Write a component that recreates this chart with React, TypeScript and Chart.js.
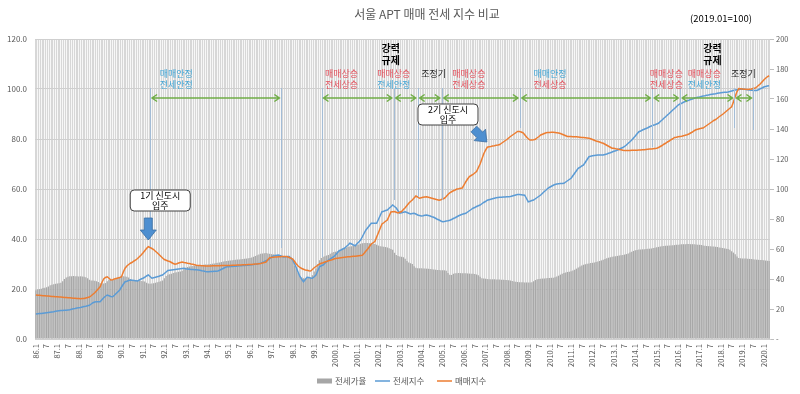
import React, { useEffect, useRef } from 'react';
import { Chart, registerables } from 'chart.js';

Chart.register(...registerables);

// ---------------- data ----------------
const FIRST_YEAR = 1986;
const LAST_YEAR = 2020;
const LAST_MONTH = 4;

const months: string[] = [];
const tickLabels: string[] = [];
for (let yr = FIRST_YEAR; yr <= LAST_YEAR; yr++) {
  for (let m = 1; m <= 12; m++) {
    if (yr === LAST_YEAR && m > LAST_MONTH) break;
    months.push(`${yr}.${String(m).padStart(2, '0')}`);
    tickLabels.push(m === 1 ? (yr < 2000 ? `${String(yr).slice(2)}.1` : `${yr}.1`) : m === 7 ? '7' : '');
  }
}

// 매매지수 (sale price index, 2019.01 = 100), monthly 1986.1 - 2020.4
const saleIndex = [
  17.6, 17.5, 17.5, 17.4, 17.3, 17.3, 17.2, 17.2, 17.1, 17.0, 17.0, 16.9, // 1986
  16.9, 16.8, 16.8, 16.7, 16.6, 16.6, 16.5, 16.5, 16.4, 16.3, 16.3, 16.2, // 1987
  16.2, 16.1, 16.2, 16.2, 16.4, 16.6, 16.8, 17.3, 17.9, 18.5, 19.3, 20.1, // 1988
  20.9, 22.6, 24.0, 24.6, 24.9, 24.3, 23.6, 23.7, 24.0, 24.2, 24.4, 24.6, // 1989
  24.9, 26.8, 28.3, 29.2, 29.8, 30.3, 30.7, 31.2, 31.6, 32.2, 32.9, 33.6, // 1990
  34.4, 35.3, 36.2, 36.9, 36.6, 36.2, 35.8, 35.1, 34.5, 33.8, 33.1, 32.4, // 1991
  31.8, 31.5, 31.2, 31.0, 30.6, 30.2, 29.9, 30.1, 30.4, 30.6, 30.8, 30.6, // 1992
  30.5, 30.3, 30.2, 30.0, 29.9, 29.7, 29.5, 29.4, 29.4, 29.3, 29.3, 29.2, // 1993
  29.2, 29.2, 29.2, 29.3, 29.3, 29.3, 29.3, 29.3, 29.4, 29.4, 29.4, 29.4, // 1994
  29.4, 29.4, 29.5, 29.5, 29.5, 29.6, 29.6, 29.6, 29.7, 29.7, 29.7, 29.8, // 1995
  29.8, 29.8, 29.9, 30.0, 30.0, 30.1, 30.2, 30.4, 30.6, 30.8, 31.7, 32.5, // 1996
  32.6, 32.7, 32.8, 32.8, 32.9, 32.9, 33.0, 33.0, 33.0, 32.9, 32.6, 32.3, // 1997
  32.0, 31.0, 30.0, 29.2, 28.6, 28.2, 27.9, 27.6, 27.5, 27.3, 27.2, 27.8, // 1998
  28.5, 29.0, 29.5, 30.0, 30.3, 30.5, 30.8, 31.0, 31.3, 31.5, 31.7, 32.0, // 1999
  32.2, 32.3, 32.4, 32.5, 32.6, 32.7, 32.8, 32.9, 32.9, 33.0, 33.1, 33.1, // 2000
  33.2, 33.3, 33.4, 33.5, 34.3, 35.2, 36.0, 37.0, 38.0, 38.5, 39.0, 40.8, // 2001
  42.5, 44.3, 46.0, 46.5, 47.1, 47.6, 49.2, 50.8, 50.9, 51.0, 50.7, 50.4, // 2002
  50.7, 51.0, 51.8, 52.5, 53.4, 54.3, 55.0, 55.6, 56.4, 57.2, 56.8, 56.3, // 2003
  56.5, 56.7, 56.8, 56.9, 56.7, 56.5, 56.3, 56.1, 55.9, 55.7, 55.5, 55.7, // 2004
  56.0, 56.3, 57.0, 57.8, 58.5, 58.9, 59.3, 59.6, 60.0, 60.1, 60.3, 60.4, // 2005
  61.6, 62.9, 64.0, 65.0, 65.4, 65.8, 66.4, 67.0, 68.5, 70.0, 72.0, 74.0, // 2006
  75.5, 76.7, 76.9, 77.0, 77.2, 77.3, 77.5, 77.6, 77.8, 78.3, 78.8, 79.3, // 2007
  79.8, 80.4, 81.0, 81.5, 82.0, 82.5, 83.0, 83.0, 82.8, 82.5, 81.7, 80.8, // 2008
  80.1, 79.6, 79.6, 79.7, 79.9, 80.5, 81.0, 81.6, 81.9, 82.2, 82.5, 82.6, // 2009
  82.6, 82.7, 82.7, 82.6, 82.5, 82.4, 82.2, 81.9, 81.6, 81.3, 81.0, 81.0, // 2010
  81.0, 80.9, 80.9, 80.9, 80.8, 80.7, 80.6, 80.6, 80.5, 80.4, 80.3, 80.1, // 2011
  79.8, 79.5, 79.2, 79.0, 78.8, 78.5, 78.3, 77.9, 77.5, 77.1, 76.7, 76.3, // 2012
  76.3, 76.1, 76.0, 75.8, 75.7, 75.5, 75.4, 75.4, 75.4, 75.4, 75.5, 75.5, // 2013
  75.5, 75.5, 75.6, 75.6, 75.7, 75.7, 75.8, 75.9, 76.0, 76.0, 76.1, 76.2, // 2014
  76.3, 76.6, 77.0, 77.4, 77.9, 78.3, 78.8, 79.2, 79.7, 80.1, 80.6, 80.7, // 2015
  80.9, 81.0, 81.1, 81.3, 81.5, 81.7, 82.0, 82.4, 82.8, 83.3, 83.7, 83.9, // 2016
  84.1, 84.3, 84.4, 84.9, 85.4, 85.9, 86.4, 86.9, 87.4, 87.8, 88.3, 88.9, // 2017
  89.4, 89.9, 90.5, 91.1, 91.7, 92.3, 92.9, 94.8, 97.0, 99.0, 100.2, 100.1, // 2018
  100.0, 99.9, 99.9, 99.8, 99.9, 100.0, 100.2, 100.3, 100.8, 101.4, 102.0, 102.8, // 2019
  103.6, 104.3, 104.9, 105.3, // 2020
];

// 전세지수 (jeonse index, 2019.01 = 100)
const jeonseIndex = [
  10.0, 10.1, 10.2, 10.2, 10.3, 10.4, 10.5, 10.6, 10.7, 10.8, 10.9, 11.1, // 1986
  11.2, 11.3, 11.4, 11.4, 11.5, 11.5, 11.6, 11.7, 11.9, 12.1, 12.2, 12.4, // 1987
  12.5, 12.6, 12.8, 13.0, 13.1, 13.3, 13.5, 14.0, 14.5, 14.8, 14.9, 14.9, // 1988
  14.9, 15.7, 16.5, 17.1, 17.6, 17.3, 17.0, 16.9, 17.5, 18.2, 18.9, 19.6, // 1989
  20.8, 21.9, 22.9, 23.1, 23.4, 23.6, 23.5, 23.4, 23.3, 23.2, 23.6, 24.0, // 1990
  24.3, 24.7, 25.2, 25.6, 25.0, 24.3, 24.5, 24.7, 24.9, 25.1, 25.4, 25.6, // 1991
  26.2, 26.8, 27.4, 27.5, 27.6, 27.7, 27.8, 27.9, 28.0, 28.1, 28.2, 28.3, // 1992
  28.1, 28.0, 27.9, 27.8, 27.8, 27.7, 27.7, 27.6, 27.5, 27.3, 27.2, 27.0, // 1993
  26.9, 26.9, 27.0, 27.0, 27.1, 27.1, 27.2, 27.5, 27.9, 28.2, 28.6, 28.9, // 1994
  28.9, 29.0, 29.0, 29.1, 29.1, 29.2, 29.3, 29.3, 29.4, 29.4, 29.5, 29.5, // 1995
  29.6, 29.7, 29.8, 29.9, 30.0, 30.2, 30.3, 30.6, 30.9, 31.3, 31.6, 32.1, // 1996
  32.7, 33.2, 33.3, 33.5, 33.6, 33.3, 33.0, 32.8, 32.9, 33.0, 33.0, 32.3, // 1997
  31.5, 30.0, 28.5, 26.7, 25.0, 23.9, 22.9, 23.8, 24.7, 24.6, 24.4, 24.3, // 1998
  24.9, 25.6, 27.3, 28.9, 29.3, 29.6, 30.3, 30.9, 31.6, 32.0, 32.5, 32.9, // 1999
  33.7, 34.5, 35.3, 35.6, 36.0, 36.3, 37.0, 37.6, 38.3, 38.0, 37.6, 37.3, // 2000
  38.1, 38.8, 39.6, 40.9, 42.3, 43.6, 44.5, 45.4, 46.3, 46.3, 46.3, 46.3, // 2001
  47.8, 49.4, 50.9, 51.1, 51.4, 51.6, 52.3, 52.9, 53.6, 53.0, 52.4, 51.3, // 2002
  50.3, 50.5, 50.7, 50.9, 50.6, 50.3, 50.0, 50.2, 50.3, 50.0, 49.6, 49.4, // 2003
  49.2, 49.3, 49.5, 49.6, 49.4, 49.2, 48.9, 48.7, 48.3, 47.9, 47.6, 47.2, // 2004
  46.9, 47.0, 47.2, 47.3, 47.5, 47.8, 48.2, 48.5, 48.9, 49.3, 49.6, 49.9, // 2005
  50.1, 50.3, 50.8, 51.3, 51.8, 52.3, 52.6, 53.0, 53.3, 53.6, 54.1, 54.6, // 2006
  55.0, 55.5, 55.7, 55.9, 56.1, 56.3, 56.5, 56.6, 56.7, 56.7, 56.8, 56.8, // 2007
  56.9, 56.9, 57.0, 57.2, 57.4, 57.6, 57.8, 57.8, 57.7, 57.6, 57.5, 56.2, // 2008
  54.9, 55.1, 55.4, 55.6, 56.1, 56.6, 57.1, 57.6, 58.3, 59.0, 59.6, 60.3, // 2009
  60.7, 61.1, 61.5, 61.8, 62.0, 62.1, 62.2, 62.2, 62.3, 62.8, 63.3, 63.8, // 2010
  64.3, 65.3, 66.3, 67.3, 68.3, 68.7, 69.2, 69.6, 70.7, 71.8, 72.9, 73.1, // 2011
  73.3, 73.4, 73.5, 73.6, 73.6, 73.6, 73.6, 73.8, 74.0, 74.3, 74.5, 74.8, // 2012
  75.1, 75.3, 75.6, 75.9, 76.3, 76.6, 77.0, 77.6, 78.3, 78.9, 79.6, 80.4, // 2013
  81.2, 82.1, 82.9, 83.2, 83.6, 83.9, 84.2, 84.5, 84.9, 85.2, 85.5, 85.7, // 2014
  86.0, 86.3, 87.0, 87.6, 88.3, 88.9, 89.6, 90.2, 90.9, 91.6, 92.2, 92.9, // 2015
  93.6, 94.0, 94.3, 94.7, 95.0, 95.3, 95.5, 95.8, 96.0, 96.3, 96.5, 96.7, // 2016
  96.8, 97.0, 97.2, 97.3, 97.5, 97.6, 97.8, 97.9, 98.0, 98.1, 98.3, 98.4, // 2017
  98.5, 98.6, 98.7, 98.7, 98.8, 99.0, 99.2, 99.4, 99.6, 99.7, 99.8, 99.9, // 2018
  100.0, 99.9, 99.8, 99.7, 99.6, 99.5, 99.5, 99.4, 99.4, 99.7, 100.1, 100.4, // 2019
  100.8, 101.0, 101.2, 101.3, // 2020
];

// 전세가율 (jeonse-to-price ratio, %, right axis)
const jeonseRatio = [
  32.5, 33.0, 33.2, 33.5, 34.0, 34.2, 34.5, 35.0, 35.8, 36.2, 36.5, 36.8, // 1986
  37.0, 37.2, 37.5, 38.5, 40.0, 41.0, 41.5, 41.8, 41.8, 42.0, 41.8, 41.8, // 1987
  41.7, 41.8, 41.6, 41.5, 41.2, 40.5, 39.5, 39.0, 39.0, 38.8, 38.5, 38.0, // 1988
  37.2, 37.0, 37.0, 37.3, 38.5, 39.3, 39.5, 39.3, 39.5, 40.0, 40.5, 41.0, // 1989
  41.5, 41.8, 41.6, 41.5, 41.0, 40.0, 39.2, 39.0, 39.0, 38.8, 38.8, 38.6, // 1990
  38.5, 38.3, 37.5, 37.0, 36.8, 37.0, 37.2, 37.5, 37.8, 38.2, 38.5, 39.0, // 1991
  40.5, 42.0, 42.8, 43.2, 43.5, 44.0, 44.3, 44.5, 44.8, 45.0, 45.5, 46.5, // 1992
  47.5, 48.0, 48.3, 48.5, 48.6, 48.8, 49.0, 49.0, 49.2, 49.3, 49.5, 49.6, // 1993
  49.7, 49.8, 50.0, 50.2, 50.4, 50.6, 50.8, 51.0, 51.3, 51.6, 51.8, 52.0, // 1994
  52.2, 52.4, 52.5, 52.7, 52.8, 53.0, 53.0, 53.2, 53.3, 53.5, 53.6, 53.8, // 1995
  54.0, 54.3, 54.8, 55.3, 55.8, 56.3, 56.8, 57.0, 57.2, 57.3, 57.0, 56.8, // 1996
  56.6, 56.5, 56.3, 56.0, 55.8, 55.6, 55.5, 55.3, 55.3, 55.2, 55.0, 54.5, // 1997
  52.0, 49.0, 47.0, 44.0, 42.0, 41.0, 40.5, 40.3, 40.5, 40.8, 41.0, 42.5, // 1998
  45.0, 47.0, 50.0, 52.5, 54.0, 54.8, 55.2, 55.6, 56.0, 56.8, 57.5, 58.0, // 1999
  58.2, 58.5, 58.8, 59.2, 59.8, 60.5, 61.0, 61.4, 61.6, 61.8, 62.0, 62.3, // 2000
  62.6, 63.0, 63.5, 63.8, 64.0, 64.0, 64.0, 63.8, 63.8, 63.6, 63.3, 62.8, // 2001
  62.3, 61.8, 61.6, 61.5, 61.3, 61.0, 60.5, 60.0, 59.5, 57.5, 56.0, 55.3, // 2002
  55.0, 54.8, 54.5, 53.5, 52.0, 51.0, 50.5, 50.0, 48.5, 47.5, 47.2, 47.1, // 2003
  47.1, 47.0, 47.0, 46.9, 46.8, 46.7, 46.5, 46.3, 46.2, 46.0, 46.0, 45.9, // 2004
  45.9, 45.8, 45.5, 44.0, 42.8, 42.7, 43.5, 43.8, 43.9, 44.0, 43.9, 43.8, // 2005
  43.8, 43.8, 43.7, 43.6, 43.5, 43.5, 43.3, 43.0, 42.5, 41.5, 40.5, 40.3, // 2006
  40.2, 40.0, 39.9, 39.8, 39.8, 39.8, 39.7, 39.6, 39.6, 39.5, 39.5, 39.4, // 2007
  39.3, 39.2, 39.0, 38.6, 38.3, 38.1, 38.0, 37.9, 37.8, 37.8, 37.7, 37.7, // 2008
  37.7, 37.6, 37.8, 38.5, 39.3, 39.8, 40.0, 40.2, 40.3, 40.4, 40.5, 40.6, // 2009
  40.7, 40.8, 40.9, 41.2, 41.6, 42.2, 42.9, 43.5, 44.0, 44.4, 44.7, 44.9, // 2010
  45.2, 45.6, 46.2, 46.9, 47.6, 48.3, 49.0, 49.5, 49.9, 50.2, 50.4, 50.6, // 2011
  50.8, 51.0, 51.3, 51.6, 52.0, 52.4, 52.8, 53.3, 53.8, 54.2, 54.5, 54.8, // 2012
  55.0, 55.2, 55.4, 55.6, 55.8, 56.0, 56.3, 56.6, 57.0, 57.6, 58.2, 58.7, // 2013
  59.2, 59.4, 59.6, 59.7, 59.8, 59.9, 60.0, 60.1, 60.2, 60.4, 60.6, 60.9, // 2014
  61.2, 61.4, 61.6, 61.8, 62.0, 62.1, 62.2, 62.3, 62.4, 62.5, 62.6, 62.8, // 2015
  62.9, 63.0, 63.1, 63.2, 63.2, 63.3, 63.3, 63.2, 63.2, 63.1, 63.0, 62.9, // 2016
  62.8, 62.6, 62.4, 62.2, 62.0, 61.9, 61.8, 61.7, 61.6, 61.5, 61.3, 61.0, // 2017
  60.8, 60.6, 60.4, 60.2, 60.0, 59.5, 58.5, 57.6, 56.5, 55.0, 54.0, 53.8, // 2018
  53.7, 53.6, 53.6, 53.5, 53.4, 53.3, 53.2, 53.0, 52.9, 52.8, 52.7, 52.6, // 2019
  52.5, 52.3, 52.2, 52.0, // 2020
];

// ---------------- annotations ----------------
const RED = '#e4505c';
const BLUE_T = '#45a7d6';
const BLACK = '#262626';

// vertical marker lines: [year, month], top value, bottom value (left axis)
const markers: { at: [number, number]; top: number; bottom: number }[] = [
  { at: [1991, 5], top: 100.4, bottom: 36.8 },
  { at: [1997, 6.6], top: 100.4, bottom: 36.4 },
  { at: [1999, 5.1], top: 100.4, bottom: 32.8 },
  { at: [2002, 9.6], top: 100.4, bottom: 55.6 },
  { at: [2003, 11], top: 100.4, bottom: 56.8 },
  { at: [2004, 12.5], top: 100.4, bottom: 55.6 },
  { at: [2008, 8.3], top: 100.4, bottom: 84.4 },
  { at: [2014, 10.5], top: 100.4, bottom: 76.8 },
  { at: [2016, 2.2], top: 100.4, bottom: 83.6 },
  { at: [2018, 8.6], top: 100.4, bottom: 84.4 },
  { at: [2019, 7.2], top: 100.4, bottom: 83.6 },
];
// double arrows between marker indexes
const periods: [number, number][] = [[0, 1], [2, 3], [3, 4], [4, 5], [5, 6], [6, 7], [7, 8], [8, 9], [9, 10]];
const ARROW_VALUE = 96.4;

const phaseLabels: { at: [number, number]; lines: [string, string][] }[] = [
  { at: [1992, 7.7], lines: [['매매안정', BLUE_T], ['전세안정', BLUE_T]] },
  { at: [2000, 4.3], lines: [['매매상승', RED], ['전세상승', RED]] },
  { at: [2002, 9.6], lines: [['매매상승', RED], ['전세안정', BLUE_T]] },
  { at: [2004, 8], lines: [['조정기', BLACK]] },
  { at: [2006, 3.7], lines: [['매매상승', RED], ['전세상승', RED]] },
  { at: [2010, 1.2], lines: [['매매안정', BLUE_T], ['전세상승', RED]] },
  { at: [2015, 6.4], lines: [['매매상승', RED], ['전세상승', RED]] },
  { at: [2017, 3.7], lines: [['매매상승', RED], ['전세안정', BLUE_T]] },
  { at: [2019, 1.6], lines: [['조정기', BLACK]] },
];
const LABEL_VALUES = [106.2, 101.8];

const regulations: [number, number][] = [[2002, 7.9], [2017, 8.2]];
const REG_VALUES = [116.4, 111.6];

const callouts = [
  { at: [1991, 10.7] as [number, number], value: 55.4, lines: ['1기 신도시', '입주'],
    arrow: { from: [[1991, 4], 48.4], to: [[1991, 4], 39.6] } },
  { at: [2005, 4.0] as [number, number], value: 89.8, lines: ['2기 신도시', '입주'],
    arrow: { from: [[2006, 6.5], 84.0], to: [[2007, 1.8], 78.8] } },
];

const FONT = "'Noto Sans CJK KR', 'Noto Sans', sans-serif";

function blockArrow(ctx: CanvasRenderingContext2D, x0: number, y0: number, x1: number, y1: number) {
  const dx = x1 - x0, dy = y1 - y0;
  const len = Math.hypot(dx, dy);
  const ux = dx / len, uy = dy / len;
  const nx = -uy, ny = ux;
  const sw = 4, hw = 8, hl = 10;
  const bx = x1 - ux * hl, by = y1 - uy * hl;
  ctx.beginPath();
  ctx.moveTo(x0 + nx * sw, y0 + ny * sw);
  ctx.lineTo(bx + nx * sw, by + ny * sw);
  ctx.lineTo(bx + nx * hw, by + ny * hw);
  ctx.lineTo(x1, y1);
  ctx.lineTo(bx - nx * hw, by - ny * hw);
  ctx.lineTo(bx - nx * sw, by - ny * sw);
  ctx.lineTo(x0 - nx * sw, y0 - ny * sw);
  ctx.closePath();
  ctx.fillStyle = '#4e8fd0';
  ctx.fill();
  ctx.strokeStyle = '#3b6fa3';
  ctx.lineWidth = 0.8;
  ctx.stroke();
}

const overlayPlugin = {
  id: 'overlay',
  beforeDraw(chart: any) {
    const { ctx, chartArea: a } = chart;
    ctx.save();
    ctx.fillStyle = '#f7f7f7';
    ctx.fillRect(a.left, a.top, a.right - a.left, a.bottom - a.top);
    ctx.restore();
  },
  afterDatasetsDraw(chart: any) {
    const ctx: CanvasRenderingContext2D = chart.ctx;
    const xs = chart.scales.x;
    const ys = chart.scales.y;
    const px = (p: [number, number]) => xs.getPixelForValue((p[0] - FIRST_YEAR) * 12 + p[1] - 1);
    const py = (v: number) => ys.getPixelForValue(v);
    ctx.save();

    // vertical markers
    ctx.strokeStyle = '#a3bcd6';
    ctx.lineWidth = 1;
    markers.forEach((m) => {
      const x = Math.round(px(m.at)) + 0.5;
      ctx.beginPath();
      ctx.moveTo(x, py(m.top));
      ctx.lineTo(x, py(m.bottom));
      ctx.stroke();
    });

    // double arrows
    ctx.strokeStyle = '#70ad47';
    ctx.lineWidth = 1.5;
    const ay = py(ARROW_VALUE);
    periods.forEach(([a, b]) => {
      const x1 = px(markers[a].at) + 2;
      const x2 = px(markers[b].at) - 2;
      ctx.beginPath();
      ctx.moveTo(x1, ay);
      ctx.lineTo(x2, ay);
      ctx.moveTo(x1 + 5, ay - 3.5);
      ctx.lineTo(x1, ay);
      ctx.lineTo(x1 + 5, ay + 3.5);
      ctx.moveTo(x2 - 5, ay - 3.5);
      ctx.lineTo(x2, ay);
      ctx.lineTo(x2 - 5, ay + 3.5);
      ctx.stroke();
    });

    // phase labels
    ctx.textAlign = 'center';
    ctx.textBaseline = 'middle';
    ctx.font = `9px ${FONT}`;
    phaseLabels.forEach((l) => {
      const x = px(l.at);
      l.lines.forEach(([t, c], i) => {
        ctx.fillStyle = c;
        ctx.fillText(t, x, py(LABEL_VALUES[i]));
      });
    });

    // regulation labels
    ctx.font = `bold 10px ${FONT}`;
    ctx.fillStyle = '#000';
    regulations.forEach((r) => {
      const x = px(r);
      ctx.fillText('강력', x, py(REG_VALUES[0]));
      ctx.fillText('규제', x, py(REG_VALUES[1]));
    });

    // callouts
    callouts.forEach((c) => {
      const cx = px(c.at);
      const cy = py(c.value);
      const w = 60, h = 21;
      ctx.beginPath();
      (ctx as any).roundRect(cx - w / 2, cy - h / 2, w, h, 4);
      ctx.fillStyle = '#fff';
      ctx.fill();
      ctx.strokeStyle = '#404040';
      ctx.lineWidth = 1;
      ctx.stroke();
      ctx.fillStyle = '#000';
      ctx.font = `9px ${FONT}`;
      ctx.fillText(c.lines[0], cx, cy - 4.5);
      ctx.fillText(c.lines[1], cx, cy + 5);
      const f = c.arrow.from as any, t = c.arrow.to as any;
      blockArrow(ctx, px(f[0]), py(f[1]), px(t[0]), py(t[1]));
    });
    ctx.restore();
  },
  afterDraw(chart: any) {
    const ctx: CanvasRenderingContext2D = chart.ctx;
    ctx.save();
    ctx.textBaseline = 'middle';
    ctx.textAlign = 'center';
    ctx.fillStyle = '#595959';
    ctx.font = `12px ${FONT}`;
    ctx.fillText('서울 APT 매매 전세 지수 비교', 427, 14);
    ctx.fillStyle = '#000';
    ctx.font = `9.5px ${FONT}`;
    ctx.fillText('(2019.01=100)', 721, 18);

    // legend
    const ly = 381;
    ctx.textAlign = 'left';
    ctx.font = `8.5px ${FONT}`;
    ctx.fillStyle = '#a6a6a6';
    ctx.fillRect(317, ly - 2.5, 15, 5);
    ctx.fillStyle = '#595959';
    ctx.fillText('전세가율', 335, ly);
    ctx.strokeStyle = '#5b9bd5';
    ctx.lineWidth = 1.5;
    ctx.beginPath(); ctx.moveTo(375, ly); ctx.lineTo(390, ly); ctx.stroke();
    ctx.fillText('전세지수', 393, ly);
    ctx.strokeStyle = '#ed7d31';
    ctx.beginPath(); ctx.moveTo(437, ly); ctx.lineTo(452, ly); ctx.stroke();
    ctx.fillText('매매지수', 455, ly);
    ctx.restore();
  },
};

export default function App() {
  const ref = useRef<HTMLCanvasElement | null>(null);
  useEffect(() => {
    document.body.style.margin = '0';
    const canvas = ref.current;
    if (!canvas) return;
    const axisFont = { family: FONT, size: 8 };
    const chart = new Chart(canvas, {
      type: 'bar',
      data: {
        labels: months,
        datasets: [
          {
            type: 'line',
            label: '매매지수',
            data: saleIndex,
            yAxisID: 'y',
            borderColor: '#ed7d31',
            borderWidth: 1.5,
            pointRadius: 0,
            tension: 0,
            order: 0,
          } as any,
          {
            type: 'line',
            label: '전세지수',
            data: jeonseIndex,
            yAxisID: 'y',
            borderColor: '#5b9bd5',
            borderWidth: 1.5,
            pointRadius: 0,
            tension: 0,
            order: 1,
          } as any,
          {
            type: 'bar',
            label: '전세가율',
            data: jeonseRatio,
            yAxisID: 'y2',
            backgroundColor: '#a8a8a8',
            categoryPercentage: 1,
            barPercentage: 0.7,
            order: 2,
          },
        ],
      },
      options: {
        animation: false,
        responsive: true,
        maintainAspectRatio: false,
        events: [],
        layout: { padding: { top: 39, left: 0, right: 0, bottom: 0 } },
        plugins: { legend: { display: false }, tooltip: { enabled: false }, title: { display: false } },
        scales: {
          x: {
            grid: { color: '#d2d2d2', lineWidth: 0.9, drawTicks: false },
            border: { color: '#d0d0d0' },
            ticks: {
              autoSkip: false,
              maxRotation: 90,
              minRotation: 90,
              padding: 5,
              color: '#595959',
              font: { family: FONT, size: 7.5 },
              callback: (_v: any, i: number) => tickLabels[i],
            },
            afterFit: (s: any) => { s.height = 55; },
          },
          y: {
            position: 'left',
            min: 0,
            max: 120,
            ticks: { stepSize: 20, padding: 8, color: '#595959', font: axisFont, callback: (v: any) => Number(v).toFixed(1) },
            grid: { color: '#cfcfcf', drawTicks: false },
            border: { display: false },
            afterFit: (s: any) => { s.width = 35; },
          },
          y2: {
            position: 'right',
            min: 0,
            max: 200,
            ticks: { stepSize: 20, padding: 2, color: '#595959', font: { family: FONT, size: 7.5 }, callback: (v: any) => (v === 0 ? '-' : String(v)) },
            grid: { drawOnChartArea: false, drawTicks: true, tickLength: 4, color: '#bfbfbf' },
            border: { display: false },
            afterFit: (s: any) => { s.width = 30; },
          },
        },
      },
      plugins: [overlayPlugin],
    });
    return () => chart.destroy();
  }, []);
  return (
    <div style={{ position: 'relative', width: 800, height: 394 }}>
      <canvas ref={ref} />
    </div>
  );
}
